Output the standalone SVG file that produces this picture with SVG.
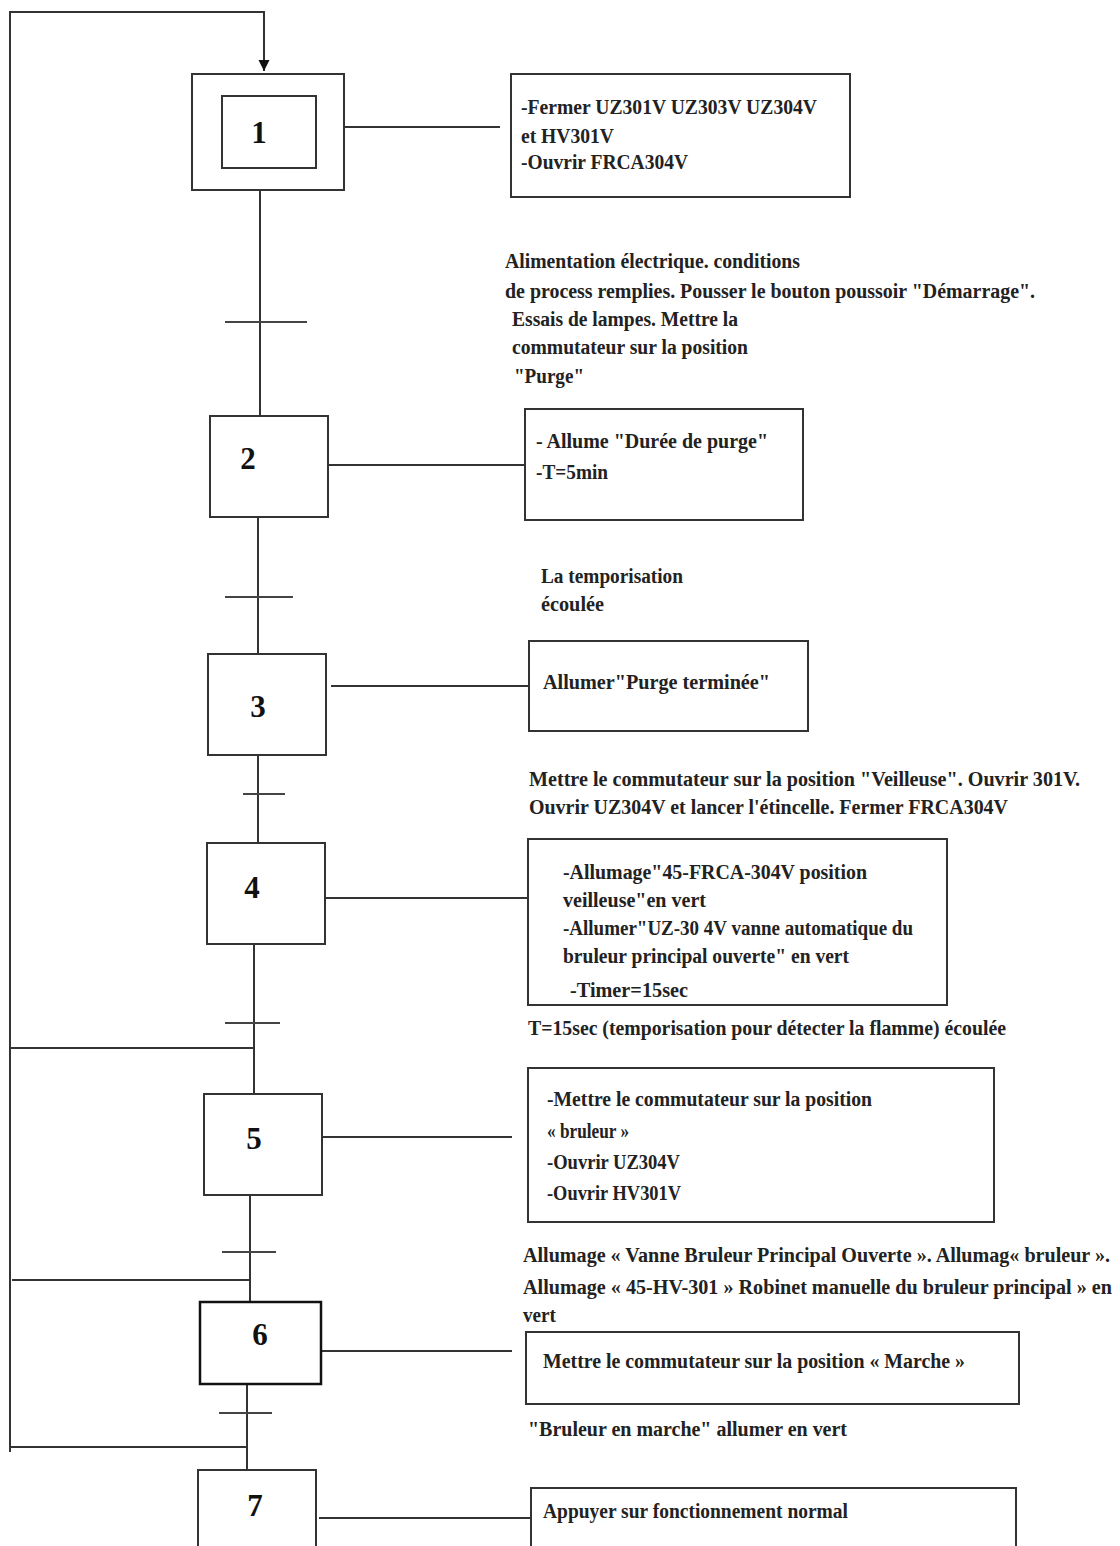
<svg xmlns="http://www.w3.org/2000/svg" width="1120" height="1546" viewBox="0 0 1120 1546">
<defs>
<style>
.ln{stroke:#333;stroke-width:2;fill:none}
.bx{stroke:#333;stroke-width:2;fill:#fff}
.tr{stroke:#444;stroke-width:2}
.t{font-family:"Liberation Serif",serif;font-weight:bold;font-size:20.5px;fill:#222}
.n{font-family:"Liberation Serif",serif;font-weight:bold;font-size:31px;fill:#111;text-anchor:middle}
</style>
<marker id="ah" markerWidth="12" markerHeight="12" refX="11" refY="6" orient="auto" markerUnits="userSpaceOnUse">
<path d="M0,0.5 L11,6 L0,11.5 Z" fill="#111"/>
</marker>
</defs>
<rect width="1120" height="1546" fill="#fff"/>
<g id="connectors">
<polyline class="ln" points="10,1452 10,12 264,12 264,40"/>
<line class="ln" x1="264" y1="40" x2="264" y2="71" marker-end="url(#ah)"/>
<line class="ln" x1="260" y1="190" x2="260" y2="416"/>
<line class="tr" x1="225" y1="322" x2="307" y2="322"/>
<line class="ln" x1="258" y1="517" x2="258" y2="654"/>
<line class="tr" x1="225" y1="597" x2="293" y2="597"/>
<line class="ln" x1="258" y1="755" x2="258" y2="843"/>
<line class="tr" x1="243" y1="794" x2="285" y2="794"/>
<line class="ln" x1="254" y1="944" x2="254" y2="1094"/>
<line class="tr" x1="225" y1="1023" x2="280" y2="1023"/>
<line class="ln" x1="10" y1="1048" x2="254" y2="1048"/>
<line class="ln" x1="250" y1="1195" x2="250" y2="1302"/>
<line class="tr" x1="222" y1="1252" x2="276" y2="1252"/>
<line class="ln" x1="12" y1="1280" x2="250" y2="1280"/>
<line class="ln" x1="247" y1="1384" x2="247" y2="1470"/>
<line class="tr" x1="219" y1="1413" x2="272" y2="1413"/>
<line class="ln" x1="10" y1="1447" x2="247" y2="1447"/>
<line class="ln" x1="344" y1="127" x2="500" y2="127"/>
<line class="ln" x1="328" y1="465" x2="525" y2="465"/>
<line class="ln" x1="331" y1="686" x2="529" y2="686"/>
<line class="ln" x1="325" y1="898" x2="528" y2="898"/>
<line class="ln" x1="322" y1="1137" x2="512" y2="1137"/>
<line class="ln" x1="321" y1="1351" x2="512" y2="1351"/>
<line class="ln" x1="319" y1="1518" x2="531" y2="1518"/>
</g>
<g id="step1">
<rect class="bx" x="192" y="74" width="152" height="116"/>
<rect class="bx" x="222" y="96" width="94" height="72"/>
<text class="n" x="259" y="143">1</text>
</g>
<g id="action1">
<rect class="bx" x="511" y="74" width="339" height="123"/>
<text class="t" x="521" y="114" textLength="296" lengthAdjust="spacingAndGlyphs">-Fermer UZ301V UZ303V UZ304V</text>
<text class="t" x="521" y="143" textLength="93" lengthAdjust="spacingAndGlyphs">et HV301V</text>
<text class="t" x="521" y="169" textLength="167" lengthAdjust="spacingAndGlyphs">-Ouvrir FRCA304V</text>
</g>
<g id="cond1">
<text class="t" x="505" y="268" textLength="295" lengthAdjust="spacingAndGlyphs">Alimentation électrique. conditions</text>
<text class="t" x="505" y="298" textLength="530" lengthAdjust="spacingAndGlyphs">de process remplies. Pousser le bouton poussoir "Démarrage".</text>
<text class="t" x="512" y="326" textLength="226" lengthAdjust="spacingAndGlyphs">Essais de lampes. Mettre la</text>
<text class="t" x="512" y="354" textLength="236" lengthAdjust="spacingAndGlyphs">commutateur sur la position</text>
<text class="t" x="514" y="383" textLength="70" lengthAdjust="spacingAndGlyphs">"Purge"</text>
</g>
<g id="step2">
<rect class="bx" x="210" y="416" width="118" height="101"/>
<text class="n" x="248" y="469">2</text>
</g>
<g id="action2">
<rect class="bx" x="525" y="409" width="278" height="111"/>
<text class="t" x="536" y="448" textLength="232" lengthAdjust="spacingAndGlyphs">- Allume "Durée de purge"</text>
<text class="t" x="536" y="479" textLength="72" lengthAdjust="spacingAndGlyphs">-T=5min</text>
</g>
<g id="cond2">
<text class="t" x="541" y="583" textLength="142" lengthAdjust="spacingAndGlyphs">La temporisation</text>
<text class="t" x="541" y="611" textLength="63" lengthAdjust="spacingAndGlyphs">écoulée</text>
</g>
<g id="step3">
<rect class="bx" x="208" y="654" width="118" height="101"/>
<text class="n" x="258" y="717">3</text>
</g>
<g id="action3">
<rect class="bx" x="529" y="641" width="279" height="90"/>
<text class="t" x="543" y="689" textLength="227" lengthAdjust="spacingAndGlyphs">Allumer"Purge terminée"</text>
</g>
<g id="cond3">
<text class="t" x="529" y="786" textLength="551" lengthAdjust="spacingAndGlyphs">Mettre le commutateur sur la position "Veilleuse". Ouvrir 301V.</text>
<text class="t" x="529" y="814" textLength="479" lengthAdjust="spacingAndGlyphs">Ouvrir UZ304V et lancer l'étincelle. Fermer FRCA304V</text>
</g>
<g id="step4">
<rect class="bx" x="207" y="843" width="118" height="101"/>
<text class="n" x="252" y="898">4</text>
</g>
<g id="action4">
<rect class="bx" x="528" y="839" width="419" height="166"/>
<text class="t" x="563" y="879" textLength="304" lengthAdjust="spacingAndGlyphs">-Allumage"45-FRCA-304V position</text>
<text class="t" x="563" y="907" textLength="143" lengthAdjust="spacingAndGlyphs">veilleuse"en vert</text>
<text class="t" x="563" y="935" textLength="350" lengthAdjust="spacingAndGlyphs">-Allumer"UZ-30 4V vanne automatique du</text>
<text class="t" x="563" y="963" textLength="286" lengthAdjust="spacingAndGlyphs">bruleur principal ouverte" en vert</text>
<text class="t" x="570" y="997" textLength="118" lengthAdjust="spacingAndGlyphs">-Timer=15sec</text>
</g>
<g id="cond4">
<text class="t" x="528" y="1035" textLength="478" lengthAdjust="spacingAndGlyphs">T=15sec (temporisation pour détecter la flamme) écoulée</text>
</g>
<g id="step5">
<rect class="bx" x="204" y="1094" width="118" height="101"/>
<text class="n" x="254" y="1149">5</text>
</g>
<g id="action5">
<rect class="bx" x="528" y="1068" width="466" height="154"/>
<text class="t" x="547" y="1106" textLength="325" lengthAdjust="spacingAndGlyphs">-Mettre le commutateur sur la position</text>
<text class="t" x="547" y="1138" textLength="82" lengthAdjust="spacingAndGlyphs">« bruleur »</text>
<text class="t" x="547" y="1169" textLength="133" lengthAdjust="spacingAndGlyphs">-Ouvrir UZ304V</text>
<text class="t" x="547" y="1200" textLength="134" lengthAdjust="spacingAndGlyphs">-Ouvrir HV301V</text>
</g>
<g id="cond5">
<text class="t" x="523" y="1262" textLength="587" lengthAdjust="spacingAndGlyphs">Allumage « Vanne Bruleur Principal Ouverte ». Allumag« bruleur ».</text>
<text class="t" x="523" y="1294" textLength="589" lengthAdjust="spacingAndGlyphs">Allumage « 45-HV-301 » Robinet manuelle du bruleur  principal »  en</text>
<text class="t" x="523" y="1322" textLength="33" lengthAdjust="spacingAndGlyphs">vert</text>
</g>
<g id="step6">
<rect x="200" y="1302" width="121" height="82" fill="#fff" stroke="#111" stroke-width="2.5"/>
<text class="n" x="260" y="1345">6</text>
</g>
<g id="action6">
<rect class="bx" x="526" y="1332" width="493" height="72"/>
<text class="t" x="543" y="1368" textLength="422" lengthAdjust="spacingAndGlyphs">Mettre le commutateur sur la position « Marche »</text>
</g>
<g id="cond6">
<text class="t" x="528" y="1436" textLength="319" lengthAdjust="spacingAndGlyphs">"Bruleur en marche" allumer en vert</text>
</g>
<g id="step7">
<rect class="bx" x="198" y="1470" width="118" height="80"/>
<text class="n" x="255" y="1516">7</text>
</g>
<g id="action7">
<rect class="bx" x="531" y="1488" width="485" height="62"/>
<text class="t" x="543" y="1518" textLength="305" lengthAdjust="spacingAndGlyphs">Appuyer sur fonctionnement normal</text>
</g>
</svg>
